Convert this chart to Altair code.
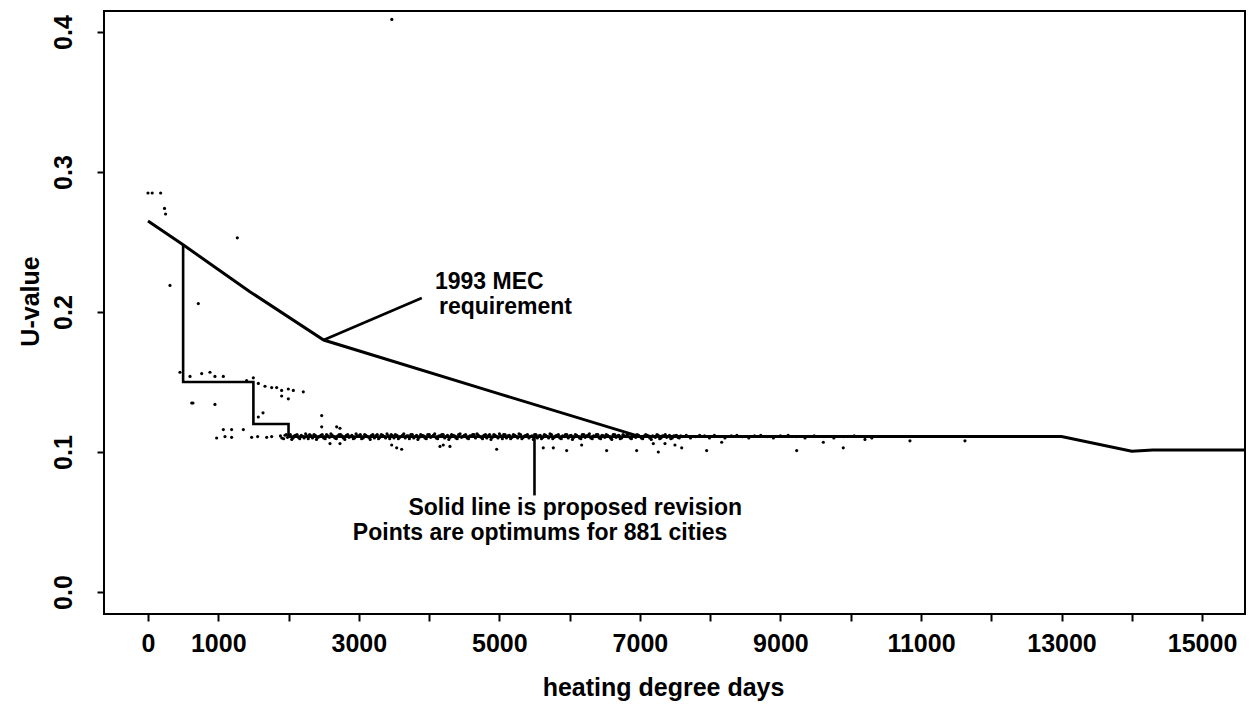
import altair as alt
import pandas as pd

# 1993 MEC requirement (heating degree days vs U-value)
mec_hdd = [0, 500, 1450, 2500, 5000, 7000, 13000, 14000, 14300, 15600]
mec_u = [0.265, 0.248, 0.2145, 0.180, 0.1415, 0.111, 0.111, 0.1005, 0.1015, 0.1015]

# proposed revision (step line)
step_hdd = [500, 500, 1500, 1500, 2000, 2000, 7000]
step_u = [0.248, 0.150, 0.150, 0.120, 0.120, 0.111, 0.111]

# optimum U-values for cities: dense band near 0.11
band_hdd = [
    1885, 1930, 1968, 2004, 2046, 2083, 2121, 2160, 2204, 2243, 2281, 2320, 2362, 2398,
    2441, 2479, 2522, 2560, 2603, 2641, 2680, 2722, 2760, 2801, 2843, 2880, 2922, 2961,
    3002, 3040, 3083, 3121, 3162, 3200, 3243, 3281, 3320, 3362, 3401, 3440, 3482, 3520,
    3563, 3601, 3640, 3682, 3720, 3761, 3803, 3841, 3880, 3922, 3960, 4003, 4041, 4080,
    4122, 4161, 4200, 4243, 4281, 4320, 4362, 4400, 4441, 4483, 4520, 4561, 4602, 4640,
    4683, 4721, 4760, 4802, 4840, 4881, 4922, 4960, 5001, 5043, 5080, 5122, 5161, 5200,
    5242, 5280, 5321, 5362, 5400, 5441, 5483, 5520, 5562, 5600, 5641, 5682, 5721, 5760,
    5802, 5840, 5881, 5922, 5960, 6003, 6040, 6082, 6121, 6160, 6202, 6240, 6281, 6322,
    6360, 6401, 6442, 6480, 6521, 6562, 6600, 6641, 6683, 6720, 6760, 6802, 6841, 6880,
    6922, 6961, 7002, 7040, 7083, 7121, 7162, 7201, 7243, 7282, 7320, 7361, 7402, 7440,
    7483, 7521, 7560, 7602, 7660, 7720, 7790, 7850, 7920, 7990, 8060, 8140, 8210, 8300,
    8380, 8460, 8550, 8630, 8720, 8810, 8900, 9000, 9110, 9230, 9350, 9480, 9620, 9760,
    9900, 10050, 10300,
]
band_u = [
    0.1115, 0.1095, 0.1125, 0.1110, 0.1090, 0.1115, 0.1125, 0.1095, 0.1110, 0.1130, 0.1095, 0.1115, 0.1125, 0.1090,
    0.1110, 0.1125, 0.1095, 0.1115, 0.1130, 0.1110, 0.1095, 0.1125, 0.1115, 0.1090, 0.1125, 0.1110, 0.1095, 0.1130,
    0.1115, 0.1095, 0.1125, 0.1110, 0.1090, 0.1125, 0.1115, 0.1095, 0.1125, 0.1110, 0.1130, 0.1095, 0.1115, 0.1125,
    0.1095, 0.1110, 0.1130, 0.1115, 0.1095, 0.1125, 0.1110, 0.1090, 0.1125, 0.1115, 0.1095, 0.1125, 0.1110, 0.1130,
    0.1095, 0.1115, 0.1125, 0.1110, 0.1090, 0.1125, 0.1115, 0.1095, 0.1130, 0.1110, 0.1125, 0.1095, 0.1115, 0.1125,
    0.1130, 0.1110, 0.1095, 0.1125, 0.1115, 0.1090, 0.1125, 0.1110, 0.1130, 0.1095, 0.1125, 0.1115, 0.1095, 0.1125,
    0.1110, 0.1130, 0.1095, 0.1115, 0.1125, 0.1110, 0.1090, 0.1125, 0.1115, 0.1095, 0.1125, 0.1110, 0.1130, 0.1095,
    0.1115, 0.1125, 0.1095, 0.1110, 0.1125, 0.1115, 0.1090, 0.1125, 0.1110, 0.1095, 0.1125, 0.1115, 0.1130, 0.1095,
    0.1110, 0.1125, 0.1095, 0.1115, 0.1125, 0.1110, 0.1090, 0.1125, 0.1115, 0.1095, 0.1125, 0.1110, 0.1130, 0.1095,
    0.1115, 0.1125, 0.1110, 0.1095, 0.1125, 0.1115, 0.1090, 0.1110, 0.1125, 0.1095, 0.1115, 0.1125, 0.1110, 0.1095,
    0.1115, 0.1120, 0.1100, 0.1110, 0.1120, 0.1100, 0.1110, 0.1120, 0.1115, 0.1100, 0.1120, 0.1110, 0.1100, 0.1115,
    0.1120, 0.1110, 0.1100, 0.1115, 0.1120, 0.1110, 0.1100, 0.1115, 0.1120, 0.1110, 0.1100, 0.1115, 0.1110, 0.1100,
    0.1110, 0.1115, 0.1100,
]

# more cities inside the band, as (heating degree days, U-value)
band_extra = [
    (1905, 0.1100), (1950, 0.1120), (1985, 0.1105), (2025, 0.1125), (2065, 0.1100), (2100, 0.1120),
    (2140, 0.1105), (2182, 0.1120), (2222, 0.1100), (2262, 0.1115), (2300, 0.1125), (2341, 0.1100),
    (2380, 0.1120), (2420, 0.1105), (2460, 0.1120), (2500, 0.1100), (2541, 0.1125), (2582, 0.1105),
    (2622, 0.1120), (2660, 0.1100), (2701, 0.1115), (2741, 0.1125), (2780, 0.1100), (2822, 0.1120),
    (2861, 0.1105), (2901, 0.1120), (2941, 0.1100), (2982, 0.1115), (3021, 0.1125), (3062, 0.1100),
    (3101, 0.1120), (3141, 0.1105), (3181, 0.1120), (3222, 0.1100), (3262, 0.1125), (3300, 0.1105),
    (3341, 0.1120), (3381, 0.1100), (3421, 0.1115), (3461, 0.1125), (3501, 0.1100), (3542, 0.1120),
    (3582, 0.1105), (3621, 0.1120), (3661, 0.1100), (3701, 0.1115), (3741, 0.1125), (3782, 0.1100),
    (3822, 0.1120), (3861, 0.1105), (3901, 0.1120), (3941, 0.1100), (3981, 0.1125), (4022, 0.1105),
    (4061, 0.1120), (4101, 0.1100), (4141, 0.1115), (4181, 0.1125), (4222, 0.1100), (4262, 0.1120),
    (4301, 0.1105), (4341, 0.1120), (4381, 0.1100), (4421, 0.1125), (4462, 0.1105), (4501, 0.1120),
    (4541, 0.1100), (4582, 0.1115), (4621, 0.1125), (4661, 0.1100), (4702, 0.1120), (4741, 0.1105),
    (4781, 0.1120), (4821, 0.1100), (4861, 0.1125), (4901, 0.1105), (4941, 0.1120), (4981, 0.1100),
    (5022, 0.1115), (5061, 0.1125), (5101, 0.1100), (5141, 0.1120), (5181, 0.1105), (5221, 0.1120),
    (5261, 0.1100), (5301, 0.1125), (5341, 0.1105), (5381, 0.1120), (5421, 0.1100), (5462, 0.1115),
    (5501, 0.1125), (5541, 0.1100), (5581, 0.1120), (5621, 0.1105), (5661, 0.1120), (5701, 0.1100),
    (5741, 0.1125), (5781, 0.1105), (5821, 0.1120), (5861, 0.1100), (5901, 0.1115), (5941, 0.1125),
    (5981, 0.1100), (6021, 0.1120), (6061, 0.1105), (6101, 0.1120), (6141, 0.1100), (6181, 0.1125),
    (6221, 0.1105), (6261, 0.1120), (6301, 0.1100), (6341, 0.1115), (6381, 0.1125), (6421, 0.1100),
    (6461, 0.1120), (6501, 0.1105), (6541, 0.1120), (6581, 0.1100), (6621, 0.1125), (6661, 0.1105),
    (6701, 0.1120), (6741, 0.1100), (6781, 0.1115), (6821, 0.1125), (6861, 0.1100), (6901, 0.1120),
    (6941, 0.1105), (6981, 0.1120), (7021, 0.1100), (7061, 0.1115), (7101, 0.1120), (7141, 0.1100),
    (7181, 0.1115), (7221, 0.1105), (7261, 0.1120), (7301, 0.1100), (7341, 0.1115), (7381, 0.1105),
    (7421, 0.1120), (7461, 0.1100), (7501, 0.1115), (7541, 0.1105), (7581, 0.1115),
]

# scattered optimum U-values away from the band
scatter_hdd = [
    0, 60, 180, 235, 250, 313, 455, 716, 1271,
    598, 764, 882, 953, 1072, 1404, 1499, 1570, 1665, 1760, 1831, 1902, 1997, 2068, 2210, 1902, 1997,
    622, 640, 953, 1637, 1570, 2472, 2472, 2685, 2732,
    977, 1096, 1190, 1072, 1190, 1357, 1475, 1560, 1689, 1760,
    2590, 2732, 3468, 3539, 3610, 4202,
    4155, 4297, 4962, 5625, 5768, 5958, 6171, 6527, 6954, 7191, 7262, 7357, 7499, 7595, 7950,
    8164, 9231, 9610, 9894, 10203, 10843, 11626,
    3470,
]
scatter_u = [
    0.285, 0.285, 0.285, 0.274, 0.270, 0.219, 0.157, 0.206, 0.253,
    0.154, 0.156, 0.157, 0.154, 0.154, 0.151, 0.153, 0.149, 0.147, 0.146, 0.146, 0.144, 0.145, 0.144, 0.143, 0.140, 0.138,
    0.135, 0.135, 0.134, 0.128, 0.125, 0.126, 0.118, 0.118, 0.117,
    0.110, 0.111, 0.1105, 0.116, 0.116, 0.116, 0.1105, 0.111, 0.1105, 0.111,
    0.106, 0.106, 0.105, 0.103, 0.102, 0.105,
    0.104, 0.104, 0.102, 0.103, 0.103, 0.101, 0.105, 0.101, 0.101, 0.106, 0.100, 0.106, 0.105, 0.103, 0.101,
    0.107, 0.101, 0.107, 0.103, 0.109, 0.108, 0.108,
    0.409,
]

x_ticks = list(range(0, 16000, 1000))
y_ticks = [0.0, 0.1, 0.2, 0.3, 0.4]

FONT = "Liberation Sans"

points = pd.DataFrame({
    "hdd": band_hdd + [p[0] for p in band_extra] + scatter_hdd,
    "u": band_u + [p[1] for p in band_extra] + scatter_u,
})
mec = pd.DataFrame({"hdd": mec_hdd, "u": mec_u, "i": range(len(mec_hdd))})
step = pd.DataFrame({"hdd": step_hdd, "u": step_u, "i": range(len(step_hdd))})

x_scale = alt.Scale(domain=[-626, 15611], nice=False, zero=False)
y_scale = alt.Scale(domain=[-0.0157, 0.415], nice=False, zero=False)

x_axis = alt.Axis(
    values=x_ticks,
    labelExpr="(datum.value == 0 || datum.value % 2000 == 1000) ? datum.value : ''",
    title="heating degree days",
    titleX=559, titleY=73, titleBaseline="middle",
    labelPadding=10, labelOverlap=False, labelFlush=False,
)
y_axis = alt.Axis(
    values=y_ticks, format=".1f",
    title="U-value",
    labelAngle=270, labelAlign="center", labelBaseline="bottom", labelPadding=21,
    titleAngle=270, titleX=-74, titleY=290, titleAlign="center", titleBaseline="middle",
)

x_enc = alt.X("hdd:Q", scale=x_scale, axis=x_axis)
y_enc = alt.Y("u:Q", scale=y_scale, axis=y_axis)

dots = alt.Chart(points).mark_circle(size=10, color="black", opacity=1).encode(
    x=x_enc, y=y_enc
)

mec_line = alt.Chart(mec).mark_line(color="black", strokeWidth=3, clip=True).encode(
    x="hdd:Q", y="u:Q", order="i:Q"
)
step_line = alt.Chart(step).mark_line(color="black", strokeWidth=2.6, clip=True).encode(
    x="hdd:Q", y="u:Q", order="i:Q"
)

# leader lines for the annotations
leaders = pd.DataFrame({
    "hdd": [2500, 5500], "u": [0.180, 0.111],
    "hdd2": [3896, 5500], "u2": [0.210, 0.069],
})
leader_rules = alt.Chart(leaders).mark_rule(color="black", strokeWidth=2.6).encode(
    x="hdd:Q", y="u:Q", x2="hdd2:Q", y2="u2:Q"
)

labels_left = pd.DataFrame({
    "hdd": [4084, 4141],
    "u": [0.2214, 0.2036],
    "text": ["1993 MEC", "requirement"],
})
mec_text = alt.Chart(labels_left).mark_text(
    align="left", baseline="middle", font=FONT, fontSize=23, fontWeight="bold", color="black"
).encode(x="hdd:Q", y="u:Q", text="text:N")

labels_center = pd.DataFrame({
    "hdd": [6080, 5580],
    "u": [0.0600, 0.0421],
    "text": ["Solid line is proposed revision", "Points are optimums for 881 cities"],
})
note_text = alt.Chart(labels_center).mark_text(
    align="center", baseline="middle", font=FONT, fontSize=23, fontWeight="bold", color="black"
).encode(x="hdd:Q", y="u:Q", text="text:N")

chart = alt.layer(dots, mec_line, step_line, leader_rules, mec_text, note_text).properties(
    width=1141, height=603,
    background="white",
    autosize=alt.AutoSizeParams(type="none"),
    padding={"left": 104, "top": 11, "right": 7, "bottom": 97},
).configure_view(
    stroke="black", strokeWidth=2
).configure_axis(
    domain=False, grid=False,
    ticks=True, tickColor="black", tickWidth=2, tickSize=7,
    labelFont=FONT, labelFontSize=25, labelFontWeight="bold", labelColor="black",
    titleFont=FONT, titleFontSize=25, titleFontWeight="bold", titleColor="black",
)

chart.save("out.html", embed_options={"renderer": "svg", "actions": False})
